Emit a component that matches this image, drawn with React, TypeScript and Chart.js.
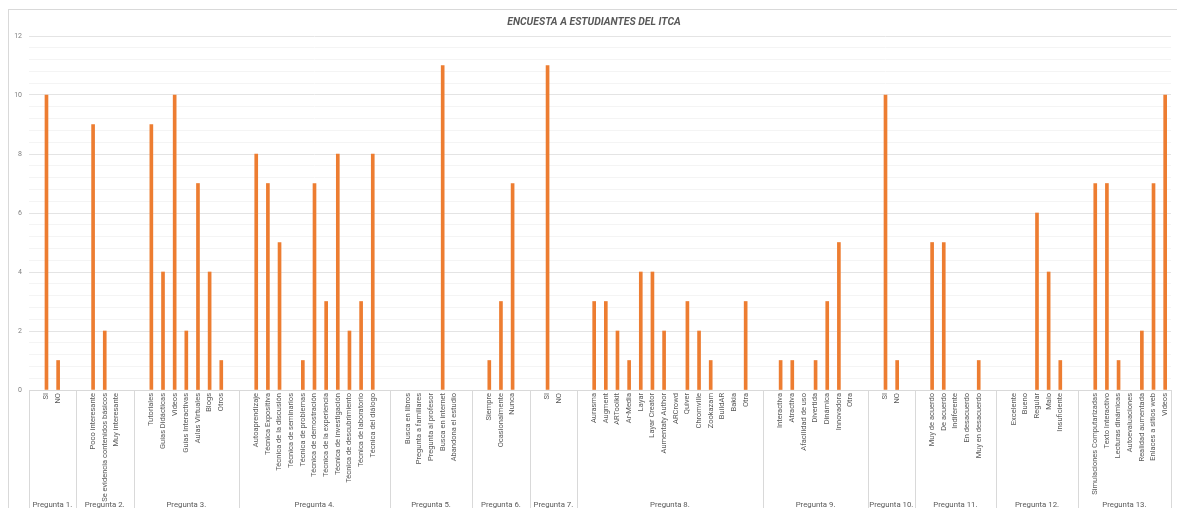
import { useEffect, useRef } from 'react';
import { Chart, registerables } from 'chart.js';

Chart.register(...registerables);

const chartTitle = 'ENCUESTA A ESTUDIANTES DEL ITCA';

const groupNames = [
  'Pregunta 1.', 'Pregunta 2.', 'Pregunta 3.', 'Pregunta 4.', 'Pregunta 5.', 'Pregunta 6.', 'Pregunta 7.',
  'Pregunta 8.', 'Pregunta 9.', 'Pregunta 10.', 'Pregunta 11.', 'Pregunta 12.', 'Pregunta 13.',
];

const p1Labels = ['SI', 'NO'];
const p1Values = [10, 1];

const p2Labels = ['Poco interesante', 'Se evidencia contenidos básicos', 'Muy interesante'];
const p2Values = [9, 2, 0];

const p3Labels = ['Tutoriales', 'Guías Didácticas', 'Videos', 'Guías Interactivas', 'Aulas Virtuales', 'Blogs', 'Otros'];
const p3Values = [9, 4, 10, 2, 7, 4, 1];

const p4Labels = [
  'Autoaprendizaje', 'Técnica Expositiva', 'Técnica de la discusión', 'Técnica de seminarios',
  'Técnica de problemas', 'Técnica de demostración', 'Técnica de la experiencia', 'Técnica de investigación',
  'Técnica de descubrimiento', 'Técnica de laboratorio', 'Técnica del diálogo',
];
const p4Values = [8, 7, 5, 0, 1, 7, 3, 8, 2, 3, 8];

const p5Labels = ['Busca en libros', 'Pregunta a familiares', 'Pregunta al profesor', 'Busca en internet', 'Abandona el estudio'];
const p5Values = [0, 0, 0, 11, 0];

const p6Labels = ['Siempre', 'Ocasionalmente', 'Nunca'];
const p6Values = [1, 3, 7];

const p7Labels = ['SI', 'NO'];
const p7Values = [11, 0];

const p8Labels = [
  'Aurasma', 'Augment', 'ARToolkit', 'Ar-Media', 'Layar', 'Layar Creator', 'Aumentaty Author',
  'ARCrowd', 'Quiver', 'Chromville', 'Zookazam', 'BuildAR', 'Bakia', 'Otra',
];
const p8Values = [3, 3, 2, 1, 4, 4, 2, 0, 3, 2, 1, 0, 0, 3];

const p9Labels = ['Interactiva', 'Atractiva', 'Afacilidad de uso', 'Divertida', 'Dinámica', 'Innovadora', 'Otra'];
const p9Values = [1, 1, 0, 1, 3, 5, 0];

const p10Labels = ['SI', 'NO'];
const p10Values = [10, 1];

const p11Labels = ['Muy de acuerdo', 'De acuerdo', 'Indiferente', 'En desacuerdo', 'Muy en desacuerdo'];
const p11Values = [5, 5, 0, 0, 1];

const p12Labels = ['Excelente', 'Bueno', 'Regular', 'Malo', 'Insuficiente'];
const p12Values = [0, 0, 6, 4, 1];

const p13Labels = [
  'Simulaciones Computarizadas', 'Texto Interactivo', 'Lecturas dinámicas', 'Autoevaluaciones',
  'Realidad aumentada', 'Enlaces a sitios web', 'Videos',
];
const p13Values = [7, 7, 1, 0, 2, 7, 10];

const yTickValues = [0, 2, 4, 6, 8, 10, 12];

const groupLabelLists = [
  p1Labels, p2Labels, p3Labels, p4Labels, p5Labels, p6Labels, p7Labels,
  p8Labels, p9Labels, p10Labels, p11Labels, p12Labels, p13Labels,
];
const groupValueLists = [
  p1Values, p2Values, p3Values, p4Values, p5Values, p6Values, p7Values,
  p8Values, p9Values, p10Values, p11Values, p12Values, p13Values,
];

// Each question gets an empty slot before its answers and one after (except the last).
const categories: string[] = [];
const values: (number | null)[] = [];
const groupSizes: number[] = [];
groupLabelLists.forEach((labels, gi) => {
  const last = gi === groupLabelLists.length - 1;
  categories.push('', ...labels);
  values.push(null, ...groupValueLists[gi]);
  if (!last) {
    categories.push('');
    values.push(null);
  }
  groupSizes.push(labels.length + (last ? 1 : 2));
});

const BAR_COLOR = '#ED7D31';
const TEXT_COLOR = '#595959';
const LINE_COLOR = '#d9d9d9';

const isMajor = (v: number) => Math.abs(v - Math.round(v)) < 1e-6 && yTickValues.includes(Math.round(v));

const groupAxisPlugin = {
  id: 'groupAxis',
  afterDraw(chart: any) {
    const { ctx, chartArea, scales } = chart;
    const x = scales.x;
    const slot = x.getPixelForValue(1) - x.getPixelForValue(0);
    const bottom = chart.height;
    ctx.save();
    ctx.strokeStyle = LINE_COLOR;
    ctx.lineWidth = 1;
    ctx.fillStyle = TEXT_COLOR;
    ctx.font = '7.8px Roboto';
    ctx.textAlign = 'center';
    ctx.textBaseline = 'middle';
    let idx = 0;
    groupSizes.forEach((size, gi) => {
      const left = x.getPixelForValue(idx) - slot / 2;
      const right = x.getPixelForValue(idx + size - 1) + slot / 2;
      const edges = gi === groupSizes.length - 1 ? [left, right] : [left];
      edges.forEach((e) => {
        const px = Math.round(e) + 0.5;
        ctx.beginPath();
        ctx.moveTo(px, chartArea.bottom);
        ctx.lineTo(px, bottom);
        ctx.stroke();
      });
      ctx.fillText(groupNames[gi], (left + right) / 2, 495);
      idx += size;
    });

    // Title
    ctx.font = 'italic bold 10.4px Roboto';
    ctx.fillStyle = TEXT_COLOR;
    ctx.fillText(chartTitle, 585, 12);
    ctx.restore();
  },
};

export default function App() {
  const canvasRef = useRef<HTMLCanvasElement | null>(null);

  useEffect(() => {
    document.body.style.overflow = 'hidden';
    const canvas = canvasRef.current;
    if (!canvas) return;
    const chart = new Chart(canvas, {
      type: 'bar',
      data: {
        labels: categories,
        datasets: [
          {
            data: values,
            backgroundColor: (ctx: any) => (ctx.raw ? BAR_COLOR : 'rgba(0,0,0,0)'),
            barThickness: 3,
          },
        ],
      },
      options: {
        responsive: false,
        animation: false,
        layout: { padding: { top: 26, left: 0, right: 16, bottom: 0 } },
        plugins: {
          legend: { display: false },
          title: { display: false },
          tooltip: { enabled: false },
        },
        scales: {
          x: {
            offset: true,
            grid: { display: false, drawTicks: false },
            border: { display: true, color: LINE_COLOR },
            ticks: {
              autoSkip: false,
              maxRotation: 90,
              minRotation: 90,
              padding: 3,
              color: TEXT_COLOR,
              font: { family: 'Roboto', size: 7.5 },
            },
            afterFit: (scale: any) => {
              scale.height = 138;
            },
          },
          y: {
            min: 0,
            max: 12,
            border: { display: false },
            grid: {
              drawTicks: false,
              color: (ctx: any) => (isMajor(ctx.tick.value) ? '#e4e4e4' : '#f4f4f4'),
            },
            ticks: {
              stepSize: 0.4,
              autoSkip: false,
              padding: 7,
              color: '#808080',
              font: { family: 'Roboto', size: 7 },
              callback: (v: any) => (isMajor(Number(v)) ? String(Math.round(Number(v))) : ''),
            },
            afterFit: (scale: any) => {
              scale.width = 20;
            },
          },
        },
      },
      plugins: [groupAxisPlugin],
    });
    return () => chart.destroy();
  }, []);

  return (
    <div
      style={{
        position: 'fixed',
        left: 8,
        top: 9,
        width: 1180,
        height: 520,
        border: `1px solid ${LINE_COLOR}`,
        boxSizing: 'border-box',
        background: '#fff',
      }}
    >
      <canvas ref={canvasRef} width={1178} height={518} style={{ display: 'block' }} />
    </div>
  );
}
